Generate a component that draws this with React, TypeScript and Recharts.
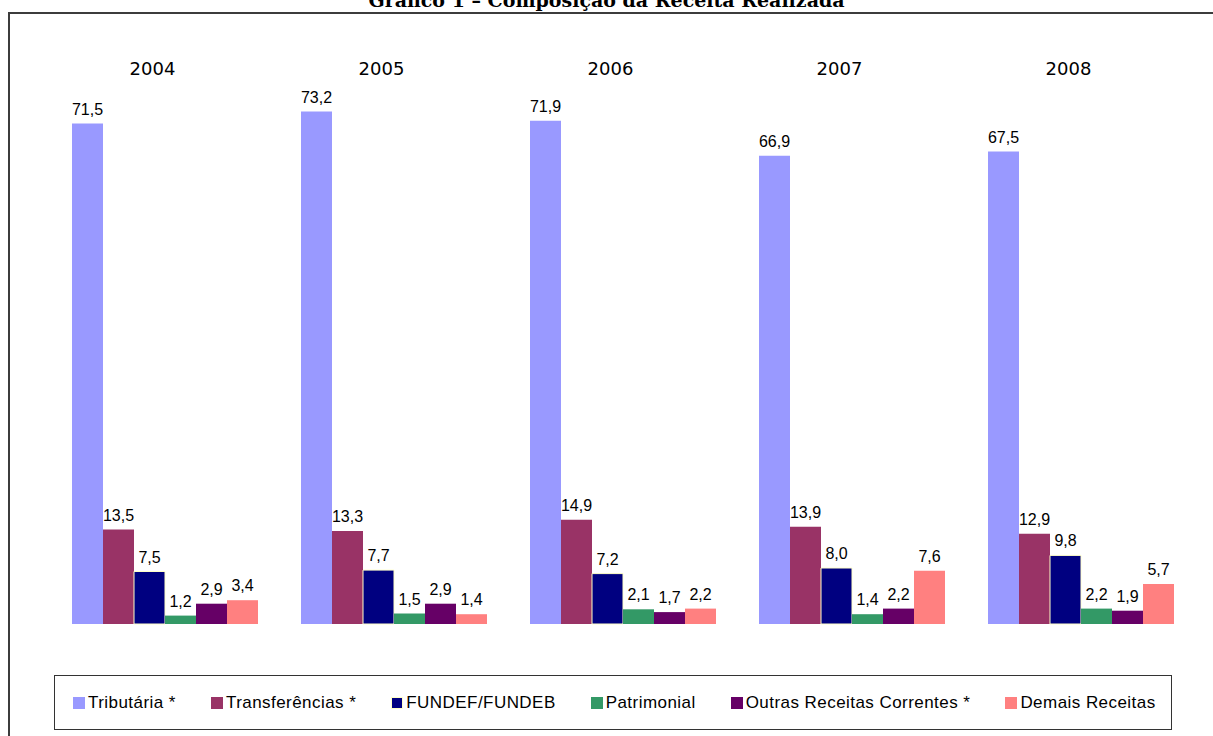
import React from 'react';
import { BarChart, Bar, XAxis, YAxis, LabelList, Legend } from 'recharts';

const years = ['2004', '2005', '2006', '2007', '2008'];
const tributaria = [71.5, 73.2, 71.9, 66.9, 67.5];
const transferencias = [13.5, 13.3, 14.9, 13.9, 12.9];
const fundef = [7.5, 7.7, 7.2, 8.0, 9.8];
const patrimonial = [1.2, 1.5, 2.1, 1.4, 2.2];
const outras = [2.9, 2.9, 1.7, 2.2, 1.9];
const demais = [3.4, 1.4, 2.2, 7.6, 5.7];

const series = [
  { key: 'tributaria', name: 'Tributária *', color: '#9999FF', values: tributaria },
  { key: 'transferencias', name: 'Transferências *', color: '#993366', values: transferencias },
  { key: 'fundef', name: 'FUNDEF/FUNDEB', color: '#000080', stroke: '#FFFFC8', values: fundef },
  { key: 'patrimonial', name: 'Patrimonial', color: '#339966', values: patrimonial },
  { key: 'outras', name: 'Outras Receitas Correntes *', color: '#660066', values: outras },
  { key: 'demais', name: 'Demais Receitas', color: '#FF8080', values: demais },
];

const data = years.map((year, i) => {
  const row: any = { year };
  series.forEach((s) => { row[s.key] = s.values[i]; });
  return row;
});

const fmt = (v: any) => Number(v).toFixed(1).replace('.', ',');

const YearTick = ({ x, y, payload }: any) => (
  <text x={x - 13} y={y} textAnchor="middle" fontSize={18} fontFamily="'DejaVu Sans', Verdana, sans-serif" fill="#000">
    {payload.value}
  </text>
);

const LegendBox = () => (
  <div style={{
    width: 1118, height: 55, border: '1px solid #333', background: '#fff',
    display: 'flex', alignItems: 'center', paddingLeft: 18, boxSizing: 'border-box',
    fontFamily: "'Liberation Sans', Arial, sans-serif", fontSize: 17, letterSpacing: 0.45, color: '#000',
  }}>
    {series.map((s) => (
      <div key={s.key} style={{ display: 'flex', alignItems: 'center', marginRight: 35, whiteSpace: 'nowrap' }}>
        <span style={{ display: 'inline-block', width: 12, height: 12, background: s.color, border: s.stroke ? `1px solid ${s.stroke}` : 'none', boxSizing: 'border-box', marginRight: 3 }} />
        <span>{s.name}</span>
      </div>
    ))}
  </div>
);

export default function App() {
  return (
    <div style={{ position: 'fixed', left: 0, top: 0, width: 1213, height: 736, overflow: 'hidden', background: '#fff' }}>
      <div style={{
        position: 'absolute', left: 0, width: 1213, top: -12, textAlign: 'center',
        fontFamily: "'DejaVu Serif', serif", fontWeight: 'bold', fontSize: 19, lineHeight: '24px', color: '#000',
      }}>
        Gráfico 1 – Composição da Receita Realizada
      </div>
      <div style={{ position: 'absolute', left: 8, top: 12, width: 1300, height: 800, borderLeft: '2px solid #3c3c3c', borderTop: '2px solid #3c3c3c' }} />
      <div style={{ position: 'absolute', left: 0, top: 0 }}>
        <BarChart
          width={1213}
          height={736}
          data={data}
          margin={{ top: 62, right: 17, bottom: 112, left: 51 }}
          barCategoryGap={21}
          barGap={0}
        >
          <XAxis
            dataKey="year"
            orientation="top"
            height={30}
            axisLine={false}
            tickLine={false}
            tickSize={0}
            tickMargin={17}
            tick={<YearTick />}
          />
          <YAxis hide domain={[0, 76]} />
          <Legend
            layout="horizontal"
            verticalAlign="middle"
            align="center"
            content={<LegendBox />}
            wrapperStyle={{ position: 'absolute', left: 54, top: 675, width: 1118, height: 55 }}
          />
          {series.map((s) => (
            <Bar
              key={s.key}
              dataKey={s.key}
              name={s.name}
              fill={s.color}
              stroke={s.stroke}
              strokeWidth={s.stroke ? 1 : 0}
              isAnimationActive={false}
            >
              <LabelList
                dataKey={s.key}
                position="top"
                offset={9}
                formatter={fmt}
                fill="#000"
                fontSize={16}
                fontFamily="'Liberation Sans', Arial, sans-serif"
              />
            </Bar>
          ))}
        </BarChart>
      </div>
    </div>
  );
}
